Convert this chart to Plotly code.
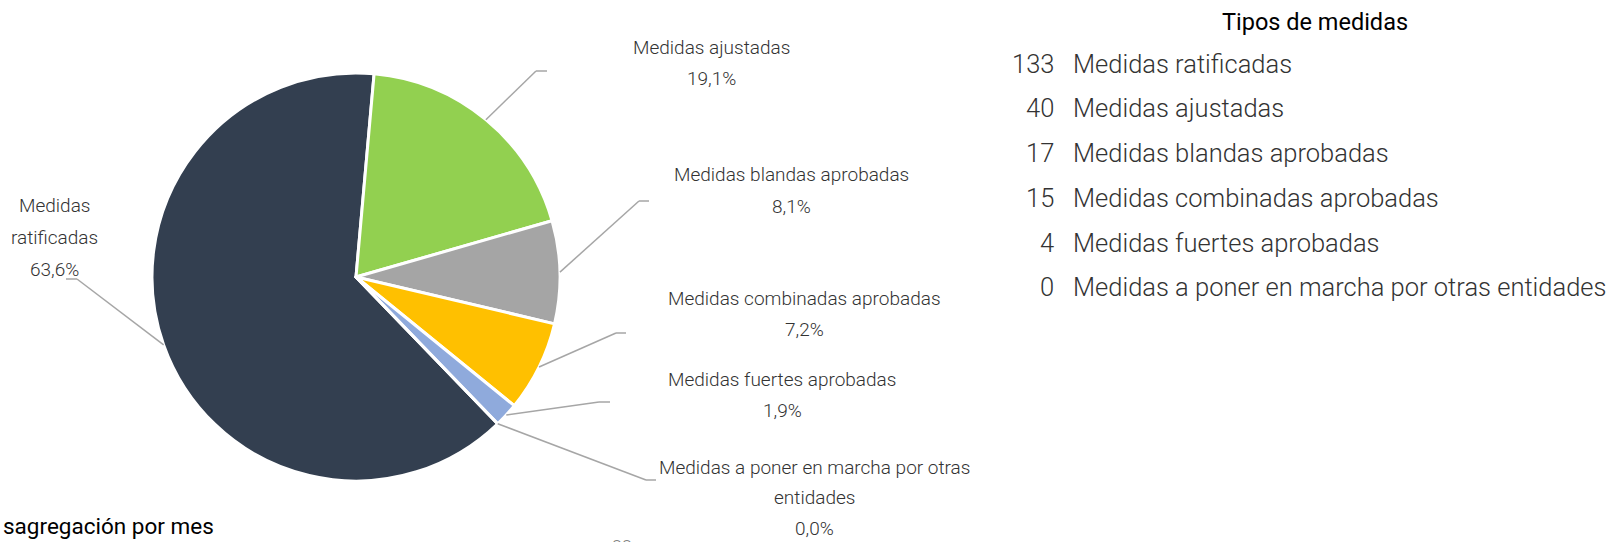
import math
import plotly.graph_objects as go

W, H = 1615, 542

# ---- data ----
categories = [
    "Medidas ratificadas",
    "Medidas ajustadas",
    "Medidas blandas aprobadas",
    "Medidas combinadas aprobadas",
    "Medidas fuertes aprobadas",
    "Medidas a poner en marcha por otras entidades",
]
values = [133, 40, 17, 15, 4, 0]
slice_colors = ["#333F50", "#92D050", "#A5A5A5", "#FFC000", "#8FAADC", "#5B9BD5"]
pie_label_lines = [
    ["Medidas", "ratificadas"],
    ["Medidas ajustadas"],
    ["Medidas blandas aprobadas"],
    ["Medidas combinadas aprobadas"],
    ["Medidas fuertes aprobadas"],
    ["Medidas a poner en marcha por otras", "entidades"],
]
legend_title = "Tipos de medidas"
section_title = "sagregación por mes"
page_number = "22"

# ---- layout constants (pixels) ----
rotation = 136
cx, cy, R = 356, 277, 204
label_pos = [(55, 206), (711, 47), (791, 175), (804, 298), (782, 379), (814, 467)]
elbows = [
    [(77, 279), (66, 279)],
    [(536, 71), (547, 71)],
    [(639, 201), (649, 201)],
    [(616, 333), (626, 333)],
    [(599, 402), (610, 402)],
    [(646, 480), (656, 480)],
]
line_h = 31.5
FONT = "Roboto"
TXT = "#333333"


def px(x):
    return x / W


def py(y):
    return 1 - y / H


total = sum(values)
fig = go.Figure()
fig.add_trace(go.Pie(
    labels=categories, values=values, sort=False, direction="clockwise",
    rotation=rotation, textinfo="none", hoverinfo="label+value+percent",
    marker=dict(colors=slice_colors, line=dict(color="white", width=3)),
    domain=dict(x=[px(cx - R), px(cx + R)], y=[py(cy + R), py(cy - R)]),
    showlegend=False,
))

shapes = []
annotations = []
cum = 0
for i, v in enumerate(values):
    mid = rotation + (cum + v / 2) / total * 360
    cum += v
    a = math.radians(mid)
    sx, sy = cx + R * math.sin(a), cy - R * math.cos(a)
    pts = [(sx, sy)] + elbows[i]
    for (x0, y0), (x1, y1) in zip(pts[:-1], pts[1:]):
        shapes.append(dict(type="line", xref="paper", yref="paper",
                           x0=px(x0), y0=py(y0), x1=px(x1), y1=py(y1),
                           line=dict(color="#A6A6A6", width=1.5)))
    pct = f"{v / total * 100:.1f}".replace(".", ",") + "%"
    lines = pie_label_lines[i] + [pct]
    lx, ly = label_pos[i]
    lh = 30.5 if i == len(values) - 1 else line_h
    for k, t in enumerate(lines):
        annotations.append(dict(
            text=t, x=px(lx), y=py(ly + k * lh), xref="paper", yref="paper",
            xanchor="center", yanchor="middle", showarrow=False,
            font=dict(family=FONT, size=19, color=TXT, weight=300)))

# right-hand list
annotations.append(dict(text=legend_title, x=px(1315), y=py(22), xref="paper", yref="paper",
                        xanchor="center", yanchor="middle", showarrow=False,
                        font=dict(family=FONT, size=23.5, color="#000000", weight=400)))
row_y = [64, 108, 153, 198, 243, 287]
for i, (c, v) in enumerate(zip(categories, values)):
    annotations.append(dict(text=str(v), x=px(1056), y=py(row_y[i]), xref="paper", yref="paper",
                            xanchor="right", yanchor="middle", showarrow=False,
                            font=dict(family=FONT, size=25.5, color=TXT, weight=300)))
    annotations.append(dict(text=c, x=px(1071), y=py(row_y[i]), xref="paper", yref="paper",
                            xanchor="left", yanchor="middle", showarrow=False,
                            font=dict(family=FONT, size=25.5, color=TXT, weight=300)))

annotations.append(dict(text=section_title, x=px(1), y=py(526), xref="paper", yref="paper",
                        xanchor="left", yanchor="middle", showarrow=False,
                        font=dict(family=FONT, size=22.5, color="#000000", weight=400)))
annotations.append(dict(text=page_number, x=px(622), y=py(546), xref="paper", yref="paper",
                        xanchor="center", yanchor="middle", showarrow=False,
                        font=dict(family=FONT, size=18, color="#7F7F7F", weight=300)))

fig.update_layout(width=W, height=H, margin=dict(l=0, r=0, t=0, b=0),
                  paper_bgcolor="white", plot_bgcolor="white",
                  shapes=shapes, annotations=annotations)
fig.write_html("out.html", config={"displayModeBar": False},
               post_script="document.body.style.margin='0';document.body.style.overflow='hidden';")
